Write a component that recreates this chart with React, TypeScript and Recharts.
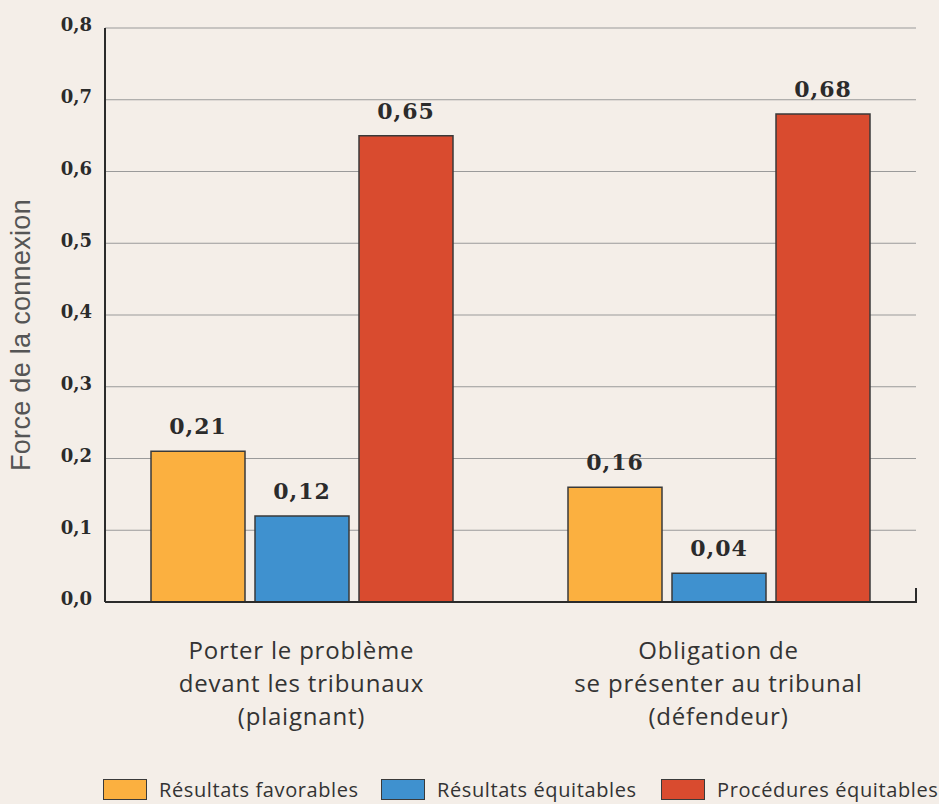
import React from 'react';
import { BarChart, Bar, XAxis, YAxis, CartesianGrid, LabelList, Label } from 'recharts';

const categories = [
  'Porter le problème\ndevant les tribunaux\n(plaignant)',
  'Obligation de\nse présenter au tribunal\n(défendeur)',
];
const seriesNames = ['Résultats favorables', 'Résultats équitables', 'Procédures équitables'];
const seriesColors = ['#fbb040', '#3f91cf', '#d94b2f'];
const favorables = [0.21, 0.16];
const resEquitables = [0.12, 0.04];
const procEquitables = [0.65, 0.68];
const yTicks = [0, 0.1, 0.2, 0.3, 0.4, 0.5, 0.6, 0.7, 0.8];

const BG = '#f4eee8';
const INK = '#2b2b2b';
const SANS = "'Open Sans', 'Noto Sans', sans-serif";
const SERIF = "'DejaVu Serif', serif";

const data = categories.map((name, i) => ({
  name,
  favorables: favorables[i],
  resEquitables: resEquitables[i],
  procEquitables: procEquitables[i],
}));

const fr = (v: number, d: number) => v.toFixed(d).replace('.', ',');

const CategoryTick = ({ x, y, payload }: any) => {
  const lines = String(payload.value).split('\n');
  return (
    <text x={x} y={y} textAnchor="middle" fill="#333" fontFamily={SANS} fontSize={24} letterSpacing={0.8}>
      {lines.map((l, i) => (
        <tspan key={i} x={x} dy={i === 0 ? 57 : 33}>{l}</tspan>
      ))}
    </text>
  );
};

const keys = ['favorables', 'resEquitables', 'procEquitables'];

export default function App() {
  return (
    <div style={{ position: 'absolute', left: 0, top: 0, width: 939, height: 804, background: BG, overflow: 'hidden' }}>
      <BarChart width={939} height={804} data={data} margin={{ top: 28, right: 23, left: 0, bottom: 0 }} barGap={10}>
        <CartesianGrid vertical={false} stroke="#9a9a9a" strokeWidth={1} />
        <XAxis
          dataKey="name"
          height={202}
          padding={{ left: -12, right: -11 }}
          axisLine={{ stroke: INK, strokeWidth: 2 }}
          tickLine={false}
          tickSize={0}
          tickMargin={0}
          tick={<CategoryTick />}
          interval={0}
        />
        <YAxis
          width={105}
          domain={[0, 0.8]}
          ticks={yTicks}
          axisLine={{ stroke: INK, strokeWidth: 2 }}
          tickLine={false}
          tickSize={0}
          tickMargin={13}
          tickFormatter={(v: number) => fr(v, 1)}
          tick={{ fill: INK, fontFamily: SERIF, fontWeight: 700, fontSize: 18, dy: -3 }}
        >
          <Label
            content={() => (
              <text
                x={21}
                y={335}
                transform="rotate(-90 21 335)"
                textAnchor="middle"
                dominantBaseline="central"
                fill="#555"
                fontFamily="'Liberation Sans', Arial, sans-serif"
                fontSize={27}
                letterSpacing={0.3}
              >
                Force de la connexion
              </text>
            )}
          />
        </YAxis>
        {keys.map((k, i) => (
          <Bar key={k} dataKey={k} name={seriesNames[i]} fill={seriesColors[i]} stroke="#3a3a3a" strokeWidth={1.5} barSize={94} isAnimationActive={false}>
            <LabelList
              dataKey={k}
              position="top"
              offset={17}
              formatter={(v: number) => fr(v, 2)}
              style={{ fill: INK, fontFamily: SERIF, fontWeight: 700, fontSize: 22, letterSpacing: 1 }}
            />
          </Bar>
        ))}
      </BarChart>
      <svg width={939} height={804} style={{ position: 'absolute', left: 0, top: 0, pointerEvents: 'none' }}>
        <line x1={916} x2={916} y1={588} y2={603} stroke={INK} strokeWidth={2} />
      </svg>
      <div style={{ position: 'absolute', left: 0, top: 776, height: 22, width: 1000, fontFamily: SANS, fontSize: 20, letterSpacing: 0.6, color: '#333' }}>
        {seriesNames.map((n, i) => (
          <div key={n} style={{ position: 'absolute', left: [103, 381, 661][i], top: 0, display: 'flex', alignItems: 'center', whiteSpace: 'nowrap' }}>
            <span style={{ display: 'inline-block', width: 44, height: 21, boxSizing: 'border-box', background: seriesColors[i], border: '1.5px solid #3a3a3a', marginRight: 12 }} />
            <span>{n}</span>
          </div>
        ))}
      </div>
    </div>
  );
}
